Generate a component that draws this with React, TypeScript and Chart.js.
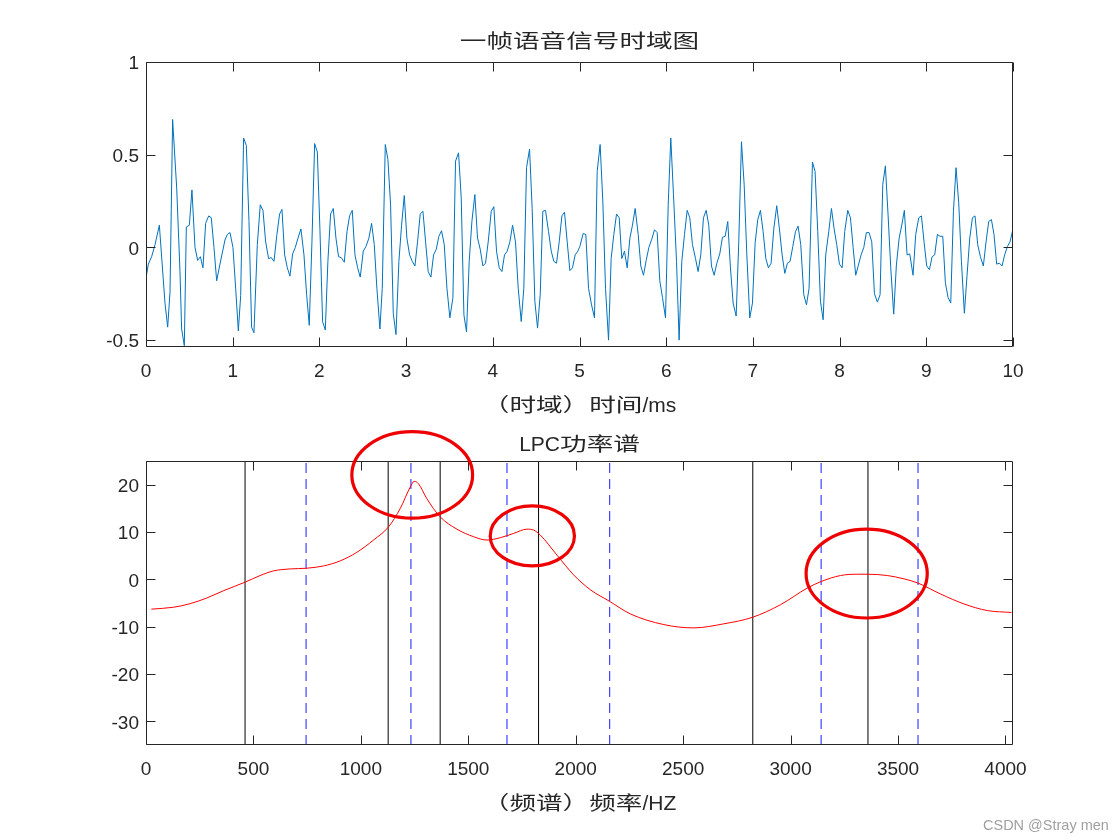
import React, { useEffect, useRef } from "react";
import { Chart, registerables } from "chart.js";

Chart.register(...registerables);

const LATIN_FONT = '"Liberation Sans", Arial, Helvetica, sans-serif';
const CJK_FONT = '"Noto Sans CJK SC", "Noto Sans CJK JP", sans-serif';
const TEXT_COLOR = "#262626";

// ---------- top subplot: one frame of speech (time domain) ----------
const timeMs = [
  0.000, 0.027, 0.065, 0.104, 0.154, 0.219, 0.250, 0.277, 0.307, 0.354, 0.392, 0.411, 0.442, 0.465, 0.500, 0.530, 0.565, 0.596, 0.627, 0.657,
  0.688, 0.723, 0.753, 0.784, 0.815, 0.853, 0.880, 0.911, 0.938, 0.969, 1.003, 1.034, 1.065, 1.092, 1.126, 1.157, 1.188, 1.218,
  1.245, 1.284, 1.318, 1.349, 1.380, 1.414, 1.445, 1.476, 1.510, 1.541, 1.568, 1.599, 1.630, 1.660, 1.691, 1.722, 1.753, 1.787, 1.822, 1.853,
  1.883, 1.914, 1.945, 1.976, 2.006, 2.037, 2.068, 2.098, 2.129, 2.160, 2.191, 2.221, 2.252, 2.287, 2.318, 2.348, 2.379, 2.410, 2.441, 2.471,
  2.506, 2.537, 2.571, 2.602, 2.633, 2.663, 2.698, 2.725, 2.760, 2.790, 2.821, 2.852, 2.883, 2.917, 2.948, 2.979, 3.009, 3.040, 3.071, 3.102,
  3.132, 3.163, 3.194, 3.225, 3.255, 3.286, 3.317, 3.348, 3.378, 3.409, 3.440, 3.471, 3.505, 3.540, 3.570, 3.605, 3.636, 3.667, 3.697, 3.728, 3.759,
  3.793, 3.824, 3.855, 3.886, 3.916, 3.947, 3.982, 4.012, 4.043, 4.074, 4.105, 4.135, 4.166, 4.197, 4.228, 4.262, 4.293, 4.328, 4.358, 4.389,
  4.424, 4.454, 4.485, 4.516, 4.547, 4.577, 4.608, 4.643, 4.674, 4.704, 4.735, 4.766, 4.797, 4.827, 4.858, 4.889, 4.919, 4.950, 4.981,
  5.004, 5.042, 5.073, 5.104, 5.139, 5.173, 5.204, 5.238, 5.269, 5.300, 5.335, 5.365, 5.396, 5.427, 5.458, 5.488, 5.519, 5.550, 5.581, 5.611,
  5.642, 5.677, 5.707, 5.738, 5.769, 5.800, 5.834, 5.865, 5.896, 5.926, 5.957, 5.992, 6.023, 6.053, 6.084, 6.119, 6.149, 6.180, 6.211, 6.242,
  6.272, 6.303, 6.338, 6.368, 6.399, 6.430, 6.461, 6.491, 6.522, 6.553, 6.584, 6.618, 6.649, 6.680, 6.710, 6.741, 6.772, 6.807, 6.837, 6.868,
  6.899, 6.930, 6.964, 6.995, 7.026, 7.056, 7.087, 7.118, 7.149, 7.179, 7.210, 7.241, 7.275, 7.306, 7.337, 7.368, 7.398, 7.429, 7.460, 7.491, 7.521, 7.552,
  7.587, 7.618, 7.648, 7.687, 7.717, 7.748, 7.779, 7.810, 7.840, 7.875, 7.906, 7.937, 7.967, 7.998, 8.029, 8.059, 8.094, 8.125, 8.156, 8.186,
  8.217, 8.248, 8.279, 8.309, 8.340, 8.371, 8.402, 8.436, 8.467, 8.498, 8.528, 8.559, 8.590, 8.624, 8.655, 8.687, 8.717, 8.747, 8.778,
  8.809, 8.847, 8.878, 8.913, 8.944, 8.974, 9.005, 9.036, 9.067, 9.097, 9.128, 9.159, 9.190, 9.220, 9.251, 9.282, 9.313, 9.343, 9.374, 9.405,
  9.439, 9.470, 9.501, 9.532, 9.562, 9.593, 9.624, 9.658, 9.689, 9.720, 9.751, 9.781, 9.812, 9.843, 9.874, 9.904, 9.935, 9.966, 10.000,
];

const amplitude = [
  -0.165, -0.09, -0.05, 0.015, 0.12, -0.30, -0.43, -0.24, 0.69, 0.32, -0.13, -0.44, -0.53, 0.11, 0.12, 0.31, 0.0, -0.07, -0.05, -0.11,
  0.13, 0.17, 0.16, 0.0, -0.18, -0.09, -0.03, 0.04, 0.07, 0.08, 0.0, -0.22, -0.45, -0.26, 0.59, 0.55, 0.14, -0.43,
  -0.46, 0.015, 0.23, 0.20, 0.03, -0.06, -0.055, -0.075, 0.07, 0.18, 0.205, -0.04, -0.11, -0.155, -0.035, 0.0, 0.05, 0.10, -0.04, -0.255,
  -0.42, 0.03, 0.56, 0.515, 0.10, -0.40, -0.445, -0.075, 0.18, 0.21, 0.05, -0.05, -0.055, -0.08, 0.085, 0.17, 0.20, -0.04, -0.11, -0.16,
  -0.02, 0.005, 0.05, 0.13, 0.015, -0.22, -0.44, -0.22, 0.555, 0.475, 0.23, -0.355, -0.47, -0.075, 0.12, 0.28, 0.05, -0.04, -0.075, -0.10,
  0.03, 0.18, 0.195, 0.03, -0.13, -0.16, -0.04, -0.01, 0.06, 0.09, 0.015, -0.22, -0.38, -0.27, 0.465, 0.51, 0.265, -0.365, -0.455, -0.075, 0.14,
  0.285, 0.05, -0.01, -0.10, -0.085, 0.03, 0.195, 0.22, -0.02, -0.11, -0.13, -0.04, -0.02, 0.03, 0.12, 0.03, -0.22, -0.40, -0.22, 0.43,
  0.53, 0.21, -0.29, -0.435, -0.255, 0.195, 0.20, 0.085, -0.02, -0.075, -0.085, 0.03, 0.17, 0.19, 0.03, -0.125, -0.11, -0.04, -0.02,
  0.005, 0.075, 0.07, -0.22, -0.31, -0.38, 0.41, 0.555, 0.25, -0.22, -0.50, -0.06, 0.07, 0.18, 0.16, -0.06, -0.02, -0.11, 0.05, 0.12,
  0.21, 0.07, -0.10, -0.15, -0.07, 0.0, 0.045, 0.095, 0.08, -0.18, -0.27, -0.38, 0.23, 0.59, 0.285, -0.075, -0.50, -0.075, 0.07, 0.20,
  0.16, 0.015, -0.06, -0.13, -0.04, 0.16, 0.20, 0.12, -0.10, -0.15, -0.085, -0.035, 0.055, 0.06, 0.14, -0.11, -0.30, -0.37, 0.03, 0.57,
  0.34, -0.04, -0.38, -0.30, 0.025, 0.15, 0.20, 0.085, -0.06, -0.11, -0.085, 0.10, 0.225, 0.10, -0.04, -0.14, -0.085, -0.075, 0.005, 0.085, 0.115, 0.015,
  -0.255, -0.31, -0.22, 0.46, 0.41, 0.085, -0.29, -0.39, -0.04, 0.085, 0.21, 0.10, 0.015, -0.09, -0.11, 0.085, 0.20, 0.16, 0.0, -0.15,
  -0.095, -0.04, 0.0, 0.08, 0.08, 0.03, -0.25, -0.295, -0.255, 0.34, 0.44, 0.175, -0.11, -0.36, -0.095, 0.05, 0.12, 0.20, -0.04,
  -0.035, -0.15, 0.07, 0.16, 0.17, 0.03, -0.10, -0.12, -0.05, -0.04, 0.07, 0.06, 0.06, -0.19, -0.27, -0.30, 0.195, 0.43, 0.24, -0.075,
  -0.355, -0.15, 0.05, 0.16, 0.17, 0.015, -0.05, -0.10, 0.03, 0.14, 0.15, 0.07, -0.09, -0.085, -0.10, -0.04, 0.005, 0.03, 0.10,
];

const topXRange = [0, 10];
const topYRange = [-0.537, 1];
const topXTicks = [0, 1, 2, 3, 4, 5, 6, 7, 8, 9, 10];
const topYTicks = [-0.5, 0, 0.5, 1];
const topTitle = "一帧语音信号时域图";
const topXLabel = "（时域）时间/ms";

// ---------- bottom subplot: LPC power spectrum ----------
const freqHz = [
  25, 127, 205, 282, 360, 461, 531, 593, 671, 748, 826, 904, 981, 1059, 1129, 1183, 1230, 1248, 1268, 1307,
  1369, 1447, 1525, 1587, 1649, 1711, 1773, 1804, 1835, 1913, 1990, 2068, 2158, 2254, 2410, 2549, 2689, 2824,
  2953, 3077, 3142, 3232, 3310, 3360, 3450, 3528, 3593, 3698, 3807, 3916, 4028,
];
const powerDb = [
  -6.3, -5.9, -5.15, -3.96, -2.42, -0.6, 0.8, 1.78, 2.2, 2.35, 2.83, 3.9, 5.7, 8.3, 11.1, 14.95, 19.5, 20.7, 20.2, 17.05,
  13.2, 10.6, 9.0, 8.3, 8.8, 9.7, 10.6, 10.4, 9.35, 5.1, 0.95, -2.2, -4.66, -7.3, -9.56, -10.26, -9.4, -8.0,
  -5.36, -1.86, -0.46, 0.8, 1.08, 1.08, 0.8, 0.1, -0.8, -3.1, -5.2, -6.6, -7.0,
];
const solidLineHz = [461, 1127, 1369, 1827, 2824, 3360];
const dashedLineHz = [745, 1233, 1680, 2158, 3142, 3593];
const bottomXRange = [0, 4035];
const bottomYRange = [-35, 25];
const bottomXTicks = [0, 500, 1000, 1500, 2000, 2500, 3000, 3500, 4000];
const bottomYTicks = [-30, -20, -10, 0, 10, 20];
const bottomTitle = "LPC功率谱";
const bottomXLabel = "（频谱）频率/HZ";

// red hand-drawn ellipses (data units)
const ellipseCenterHz = [1239, 1798, 3354];
const ellipseCenterDb = [22.06, 9.18, 1.22];
const ellipseRadiusHz = [281, 196, 282];
const ellipseRadiusDb = [9.14, 6.34, 9.39];

const watermark = "CSDN @Stray men";

// ---------- helpers ----------
const CJK_RE = /[\u3000-\u303f\u4e00-\u9fff\uff00-\uffef]/;
const CJK_SIZE = 19;
const CJK_STRETCH = 1.4;
const LATIN_LABEL_SIZE = 21;

function drawMixed(ctx: CanvasRenderingContext2D, text: string, cx: number, baseline: number) {
  const runs: { t: string; cjk: boolean }[] = [];
  for (const ch of text) {
    const cjk = CJK_RE.test(ch);
    const last = runs[runs.length - 1];
    if (last && last.cjk === cjk) last.t += ch;
    else runs.push({ t: ch, cjk });
  }
  ctx.save();
  ctx.fillStyle = TEXT_COLOR;
  ctx.textAlign = "left";
  ctx.textBaseline = "alphabetic";
  const fontOf = (cjk: boolean) => (cjk ? `${CJK_SIZE}px ${CJK_FONT}` : `${LATIN_LABEL_SIZE}px ${LATIN_FONT}`);
  const widths = runs.map((r) => {
    ctx.font = fontOf(r.cjk);
    return ctx.measureText(r.t).width * (r.cjk ? CJK_STRETCH : 1);
  });
  let x = cx - widths.reduce((a, b) => a + b, 0) / 2;
  runs.forEach((r, i) => {
    ctx.font = fontOf(r.cjk);
    if (r.cjk) {
      ctx.save();
      ctx.translate(x, baseline);
      ctx.scale(CJK_STRETCH, 1);
      ctx.fillText(r.t, 0, 0);
      ctx.restore();
    } else {
      ctx.fillText(r.t, x, baseline);
    }
    x += widths[i];
  });
  ctx.restore();
}

const framePlugin = {
  id: "matlabFrame",
  afterDraw(chart: any) {
    const { ctx, chartArea: a, scales } = chart;
    const xs = scales.x;
    const ys = scales.y;
    const L = Math.round(a.left) + 0.5;
    const R = Math.round(a.right) - 0.5;
    const T = Math.round(a.top) + 0.5;
    const B = Math.round(a.bottom) - 0.5;
    const len = 9;
    ctx.save();
    ctx.strokeStyle = TEXT_COLOR;
    ctx.lineWidth = 1;
    ctx.beginPath();
    ctx.rect(L, T, R - L, B - T);
    xs.ticks.forEach((t: any) => {
      const px = Math.round(xs.getPixelForValue(t.value)) + 0.5;
      ctx.moveTo(px, B);
      ctx.lineTo(px, B - len);
      ctx.moveTo(px, T);
      ctx.lineTo(px, T + len);
    });
    ys.ticks.forEach((t: any) => {
      const py = Math.round(ys.getPixelForValue(t.value)) + 0.5;
      ctx.moveTo(L, py);
      ctx.lineTo(L + len, py);
      ctx.moveTo(R, py);
      ctx.lineTo(R - len, py);
    });
    ctx.stroke();
    ctx.restore();
  },
};

const ellipsePlugin = {
  id: "redEllipses",
  afterDraw(chart: any, _args: any, opts: any) {
    if (!opts || !opts.enabled) return;
    const { ctx, scales } = chart;
    const xs = scales.x;
    const ys = scales.y;
    ctx.save();
    ctx.strokeStyle = "rgb(238,0,0)";
    ctx.lineWidth = 3.2;
    ellipseCenterHz.forEach((hz, i) => {
      const cx = xs.getPixelForValue(hz);
      const cy = ys.getPixelForValue(ellipseCenterDb[i]);
      const rx = Math.abs(xs.getPixelForValue(hz + ellipseRadiusHz[i]) - cx);
      const ry = Math.abs(ys.getPixelForValue(ellipseCenterDb[i] + ellipseRadiusDb[i]) - cy);
      ctx.beginPath();
      ctx.ellipse(cx, cy, rx, ry, 0, 0, Math.PI * 2);
      ctx.stroke();
    });
    ctx.restore();
  },
};

const labelPlugin = {
  id: "axisText",
  afterDraw(chart: any, _args: any, opts: any) {
    const a = chart.chartArea;
    const cx = (a.left + a.right) / 2;
    drawMixed(chart.ctx, opts.title, cx, opts.titleBaseline);
    drawMixed(chart.ctx, opts.xlabel, cx, opts.xlabelBaseline);
  },
};

function makeScales(
  xRange: number[], yRange: number[], xTicks: number[], yTicks: number[], xHeight: number
) {
  const tickFont = { family: LATIN_FONT, size: 19 };
  return {
    x: {
      type: "linear",
      min: xRange[0],
      max: xRange[1],
      grid: { display: false, drawTicks: false },
      border: { display: false },
      ticks: {
        color: TEXT_COLOR,
        font: tickFont,
        padding: 13,
        autoSkip: false,
        maxRotation: 0,
        callback: (v: any) => String(v),
      },
      afterBuildTicks: (s: any) => {
        s.ticks = xTicks.map((value) => ({ value }));
      },
      afterFit: (s: any) => {
        s.height = xHeight;
      },
    },
    y: {
      type: "linear",
      min: yRange[0],
      max: yRange[1],
      grid: { display: false, drawTicks: false },
      border: { display: false },
      ticks: {
        color: TEXT_COLOR,
        font: tickFont,
        padding: 7,
        labelOffset: 2,
        autoSkip: false,
        callback: (v: any) => String(v),
      },
      afterBuildTicks: (s: any) => {
        s.ticks = yTicks.map((value) => ({ value }));
      },
      afterFit: (s: any) => {
        s.width = 146;
      },
    },
  };
}

export default function App() {
  const topRef = useRef<HTMLCanvasElement | null>(null);
  const bottomRef = useRef<HTMLCanvasElement | null>(null);

  useEffect(() => {
    const topChart = new Chart(topRef.current as HTMLCanvasElement, {
      type: "line",
      data: {
        datasets: [
          {
            data: timeMs.map((t, i) => ({ x: t, y: amplitude[i] })),
            borderColor: "#0072BD",
            borderWidth: 1,
            pointRadius: 0,
            tension: 0,
            fill: false,
          },
        ],
      },
      options: {
        responsive: false,
        animation: false,
        devicePixelRatio: 1,
        layout: { padding: { top: 62, right: 107, bottom: 0, left: 0 } },
        plugins: {
          legend: { display: false },
          tooltip: { enabled: false },
          axisText: { title: topTitle, titleBaseline: 48, xlabel: topXLabel, xlabelBaseline: 412 },
          redEllipses: { enabled: false },
        } as any,
        scales: makeScales(topXRange, topYRange, topXTicks, topYTicks, 73) as any,
      },
      plugins: [framePlugin, ellipsePlugin, labelPlugin],
    });

    const solidSets = solidLineHz.map((hz) => ({
      data: [
        { x: hz, y: bottomYRange[0] },
        { x: hz, y: bottomYRange[1] },
      ],
      borderColor: "#000000",
      borderWidth: 1,
      pointRadius: 0,
      fill: false,
    }));
    const dashedSets = dashedLineHz.map((hz) => ({
      data: [
        { x: hz, y: bottomYRange[0] },
        { x: hz, y: bottomYRange[1] },
      ],
      borderColor: "#1a1aff",
      borderWidth: 1,
      borderDash: [10, 6],
      pointRadius: 0,
      fill: false,
    }));

    const bottomChart = new Chart(bottomRef.current as HTMLCanvasElement, {
      type: "line",
      data: {
        datasets: [
          {
            data: freqHz.map((f, i) => ({ x: f, y: powerDb[i] })),
            borderColor: "#ff0000",
            borderWidth: 1,
            pointRadius: 0,
            cubicInterpolationMode: "monotone",
            fill: false,
          },
          ...solidSets,
          ...dashedSets,
        ] as any,
      },
      options: {
        responsive: false,
        animation: false,
        devicePixelRatio: 1,
        layout: { padding: { top: 41, right: 107, bottom: 0, left: 0 } },
        plugins: {
          legend: { display: false },
          tooltip: { enabled: false },
          axisText: { title: bottomTitle, titleBaseline: 31, xlabel: bottomXLabel, xlabelBaseline: 390 },
          redEllipses: { enabled: true },
        } as any,
        scales: makeScales(bottomXRange, bottomYRange, bottomXTicks, bottomYTicks, 95) as any,
      },
      plugins: [framePlugin, ellipsePlugin, labelPlugin],
    });

    return () => {
      topChart.destroy();
      bottomChart.destroy();
    };
  }, []);

  return (
    <div
      style={{
        position: "fixed",
        left: 0,
        top: 0,
        width: 1120,
        height: 840,
        background: "#ffffff",
        overflow: "hidden",
      }}
    >
      <canvas
        ref={topRef}
        width={1120}
        height={420}
        style={{ position: "absolute", left: 0, top: 0, width: 1120, height: 420, display: "block" }}
      />
      <canvas
        ref={bottomRef}
        width={1120}
        height={420}
        style={{ position: "absolute", left: 0, top: 420, width: 1120, height: 420, display: "block" }}
      />
      <div
        style={{
          position: "absolute",
          left: 983,
          top: 818,
          fontFamily: LATIN_FONT,
          fontSize: 14.5,
          lineHeight: 1,
          color: "#a0a0a0",
          whiteSpace: "nowrap",
        }}
      >
        {watermark}
      </div>
    </div>
  );
}
